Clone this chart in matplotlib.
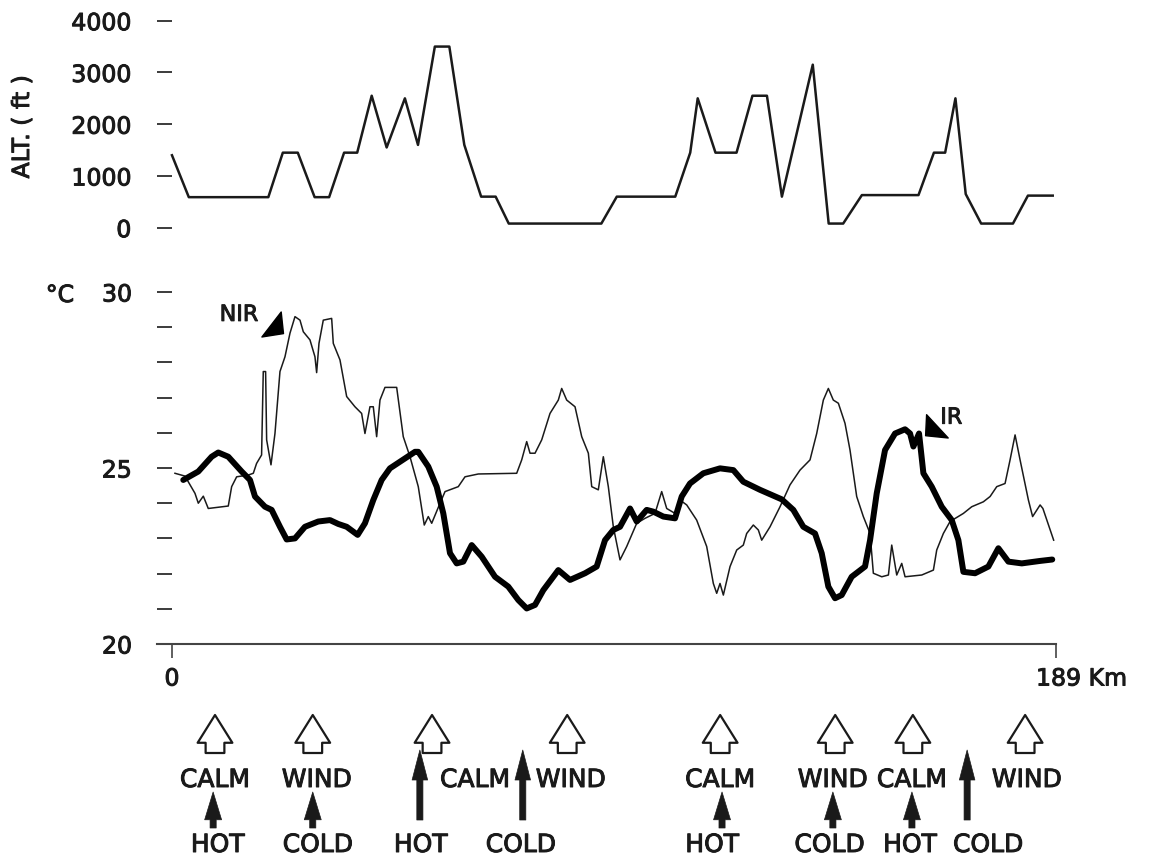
import matplotlib
matplotlib.use('Agg')
import matplotlib.pyplot as plt
import matplotlib.patheffects as pe
from matplotlib.path import Path

plt.rcParams['font.family'] = ['DejaVu Sans']

# ---------------- data ----------------
alt_km = [0.0, 3.6, 20.6, 23.7, 26.9, 30.5, 33.6, 36.8, 39.6, 42.7, 45.9, 49.8, 52.6,
          56.2, 59.3, 62.5, 66.1, 69.2, 72.0, 91.8, 95.1, 107.6, 110.8, 112.4, 116.2,
          120.7, 124.1, 127.2, 130.4, 137.0, 140.4, 143.5, 147.5, 159.6, 162.9, 165.3,
          167.5, 169.7, 173.0, 179.8, 183.0, 188.3]
alt_ft = [1400, 590, 590, 1450, 1450, 590, 590, 1450, 1450, 2550, 1550, 2500, 1600,
          3500, 3500, 1600, 600, 600, 80, 80, 600, 600, 1450, 2500, 1450,
          1450, 2550, 2550, 600, 3150, 80, 80, 630, 630, 1450, 1450,
          2500, 650, 80, 80, 620, 620]

ir_km = [2.42, 5.63, 8.48, 9.90, 12.04, 14.90, 16.68, 17.75, 19.88, 21.31, 23.09, 24.52,
         26.30, 28.43, 31.28, 33.78, 35.56, 37.35, 39.70, 41.26, 43.04, 44.83, 46.6,
         51.96, 52.66, 54.80, 56.59, 58.01, 59.44, 60.87, 62.28, 64.08, 66.22, 69.07,
         71.90, 74.04, 75.84, 77.62, 79.39, 82.60, 85.10, 88.31, 90.80, 92.58, 94.36,
         95.79, 97.93, 99.36, 101.49, 102.91, 105.05, 107.55, 108.98, 110.75, 113.60,
         117.17, 120.02, 122.15, 125.72, 130.36, 132.84, 134.98, 137.48, 138.91, 140.33,
         141.76, 143.18, 145.32, 148.17, 149.25, 150.67, 152.45, 154.59, 156.73, 157.80,
         158.51, 159.72, 160.65, 162.43, 164.57, 166.71, 168.13, 169.20, 171.69, 174.54,
         176.68, 178.82, 181.68, 185.6, 188.2]
ir_temp = [24.66, 24.90, 25.32, 25.44, 25.32, 24.90, 24.66, 24.19, 23.90, 23.81, 23.33, 22.97,
           23.00, 23.33, 23.48, 23.52, 23.41, 23.33, 23.10, 23.43, 24.09, 24.66, 24.99,
           25.46, 25.46, 25.04, 24.47, 23.71, 22.58, 22.29, 22.34, 22.81, 22.48, 21.91,
           21.63, 21.25, 21.01, 21.11, 21.53, 22.10, 21.82, 22.01, 22.20, 22.95, 23.24,
           23.33, 23.85, 23.48, 23.81, 23.76, 23.62, 23.57, 24.19, 24.56, 24.85,
           24.99, 24.94, 24.61, 24.38, 24.11, 23.81, 23.33, 23.14, 22.58, 21.63,
           21.30, 21.39, 21.91, 22.20, 22.95, 24.28, 25.51, 25.98, 26.10, 25.98,
           25.61, 25.98, 24.85, 24.47, 23.90, 23.52, 22.95, 22.05, 22.01, 22.20,
           22.72, 22.34, 22.29, 22.36, 22.40]

nir_km = [0.64, 2.78, 4.92, 5.63, 6.70, 7.76, 12.04, 12.76, 13.83, 16.32, 17.39, 18.09,
          19.16, 19.52, 20.02, 20.24, 21.17, 22.02, 23.09, 24.16, 25.23, 26.30, 27.37,
          28.08, 29.50, 30.57, 30.93, 31.43, 32.35, 34.14, 34.49, 35.92, 37.35, 39.12,
          40.55, 41.26, 42.33, 43.04, 43.76, 44.47, 45.54, 48.04, 49.45, 50.89, 52.66,
          53.94, 54.80, 55.53, 57.31, 58.38, 61.21, 62.65, 65.49, 73.70, 74.77, 75.84,
          76.55, 77.62, 79.05, 80.82, 82.60, 83.32, 84.39, 86.17, 87.60, 89.02, 89.74,
          91.15, 92.22, 93.29, 94.36, 95.79, 97.22, 99.36, 101.13, 103.27, 104.70,
          105.77, 107.55, 108.62, 110.05, 112.18, 114.32, 115.74, 116.46, 117.17,
          117.88, 119.31, 120.74, 122.15, 122.87, 124.29, 125.36, 126.08, 127.86,
          130.00, 132.13, 134.27, 136.41, 137.84, 139.26, 140.33, 141.39, 142.47,
          143.89, 144.96, 146.39, 147.81, 149.25, 149.95, 151.75, 153.17, 153.88,
          154.95, 156.02, 156.73, 160.30, 162.79, 163.50, 164.92, 166.35, 169.20,
          170.99, 173.47, 174.91, 176.33, 178.11, 179.18, 180.25, 181.32, 183.10,
          184.0, 185.6, 186.2, 188.5]
nir_temp = [24.85, 24.77, 24.28, 24.00, 24.20, 23.85, 23.92, 24.47, 24.75, 24.80, 24.85, 25.13,
            25.37, 27.74, 27.74, 25.80, 25.09, 25.98, 27.74, 28.16, 28.83, 29.30, 29.20,
            28.87, 28.64, 28.16, 27.71, 28.54, 29.20, 29.25, 28.54, 28.07, 27.03, 26.74,
            26.55, 25.98, 26.74, 26.74, 25.89, 26.93, 27.29, 27.29, 25.89, 25.32, 24.47,
            23.38, 23.62, 23.43, 24.00, 24.33, 24.47, 24.75, 24.83, 24.85, 25.23, 25.75,
            25.42, 25.42, 25.80, 26.55, 26.93, 27.26, 26.93, 26.74, 25.89, 25.42, 24.47,
            24.38, 25.32, 24.47, 23.33, 22.39, 22.77, 23.43, 23.57, 23.71, 24.33,
            23.85, 23.71, 24.09, 23.95, 23.52, 22.77, 21.72, 21.44, 21.72,
            21.39, 22.20, 22.67, 22.81, 23.14, 23.38, 23.24, 22.95, 23.33,
            23.90, 24.52, 24.94, 25.23, 25.98, 26.93, 27.26, 26.93, 26.84,
            26.27, 25.51, 24.19, 23.62, 23.14, 22.01, 21.91, 21.96, 22.81,
            21.96, 22.29, 21.91, 21.96, 22.10, 22.67, 23.14, 23.48, 23.71,
            23.90, 24.04, 24.19, 24.47, 24.56, 25.23, 25.94, 25.23, 24.09,
            23.62, 23.95, 23.85, 22.95]

upper_labels = ['CALM', 'WIND', 'CALM', 'WIND', 'CALM', 'WIND', 'CALM', 'WIND']
upper_label_km = [9.2, 31.0, 64.8, 85.3, 117.2, 141.3, 158.2, 182.8]
lower_labels = ['HOT', 'COLD', 'HOT', 'COLD', 'HOT', 'COLD', 'HOT', 'COLD']
lower_label_km = [9.8, 31.2, 53.2, 74.6, 115.5, 140.6, 157.8, 174.5]
open_arrow_km = [9.2, 30.1, 55.6, 84.5, 117.2, 141.8, 158.4, 182.4]
short_arrow_km = [8.8, 30.1, 117.6, 141.3, 158.2]
long_arrow_km = [53.0, 75.0, 170.0]

alt_ticks = [0, 1000, 2000, 3000, 4000]
temp_ticks = list(range(20, 31))
temp_tick_labels = ['20', '', '', '', '', '25', '', '', '', '', '30']

# ---------------- layout ----------------
W, H = 1152, 856
fig = plt.figure(figsize=(W / 100, H / 100), dpi=100)
fig.patch.set_facecolor('white')


def box(x0, y0, x1, y1):
    return [x0 / W, 1 - y1 / H, (x1 - x0) / W, (y1 - y0) / H]


KM_MIN, KM_MAX = -3.2, 189
INK = '#1a1a1a'
FS = 17
HEAVY = [pe.withStroke(linewidth=0.7, foreground=INK)]

# altitude panel
ax_a = fig.add_axes(box(157, 20.7, 1056, 227.7))
ax_a.plot(alt_km, alt_ft, color=INK, lw=1.8, clip_on=False)
ax_a.set_xlim(KM_MIN, KM_MAX)
ax_a.set_ylim(0, 4000)
for s in ax_a.spines.values():
    s.set_visible(False)
ax_a.set_xticks([])
ax_a.set_yticks(alt_ticks)
ax_a.tick_params(axis='y', direction='in', length=10.5, width=1.2, pad=18.5,
                 labelsize=FS, colors=INK)
for t in ax_a.get_yticklabels():
    t.set_path_effects(HEAVY)
ax_a.set_facecolor('none')

# temperature panel
ax_t = fig.add_axes(box(157, 292, 1056, 644))
ax_t.plot(nir_km, nir_temp, color=INK, lw=1.1)
ax_t.plot(ir_km, ir_temp, color='black', lw=4.3, solid_capstyle='round',
          solid_joinstyle='round')
ax_t.set_xlim(KM_MIN, KM_MAX)
ax_t.set_ylim(20, 30)
for name in ['left', 'top', 'right']:
    ax_t.spines[name].set_visible(False)
ax_t.spines['bottom'].set_color('#444444')
ax_t.spines['bottom'].set_linewidth(1.5)
ax_t.set_yticks(temp_ticks)
ax_t.set_yticklabels(temp_tick_labels)
ax_t.tick_params(axis='y', direction='in', length=10.5, width=1.2, pad=18,
                 labelsize=FS, colors=INK)
for t in ax_t.get_yticklabels():
    t.set_path_effects(HEAVY)
ax_t.set_xticks([0, 189])
ax_t.set_xticklabels(['', ''])
ax_t.tick_params(axis='x', direction='out', length=10, width=1.2, colors='#444444')
ax_t.set_facecolor('none')

ax_t.annotate('0', xy=(0, 20), xytext=(0, -29.9), textcoords='offset points',
              ha='center', va='baseline', fontsize=FS, color=INK, annotation_clip=False,
              path_effects=HEAVY)
ax_t.annotate('189 Km', xy=(189, 20), xytext=(-14.4, -29.9), textcoords='offset points',
              ha='left', va='baseline', fontsize=FS, color=INK, annotation_clip=False,
              path_effects=HEAVY)

fig.text(60 / W, 1 - 295 / H, '°C', ha='center', va='center', fontsize=FS, color=INK,
         path_effects=HEAVY)
fig.text(22 / W, 1 - 126.7 / H, 'ALT. ( ft )', rotation=90, ha='center', va='center',
         fontsize=FS, color=INK, path_effects=HEAVY)

# NIR / IR labels with pointer triangles
ax_t.text(14.3, 29.35, 'NIR', ha='center', va='center', fontsize=16, color=INK,
          path_effects=HEAVY)
ax_t.text(166.6, 26.43, 'IR', ha='center', va='center', fontsize=16, color=INK,
          path_effects=HEAVY)
nir_tri = Path([(-13.6, -9.5), (8.0, -6.1), (5.7, 15.5), (-13.6, -9.5)],
               [Path.MOVETO, Path.LINETO, Path.LINETO, Path.CLOSEPOLY])
ir_tri = Path([(-6.9, 14.8), (-7.9, -6.2), (14.7, -8.5), (-6.9, 14.8)],
              [Path.MOVETO, Path.LINETO, Path.LINETO, Path.CLOSEPOLY])
ax_t.plot([22.1], [29.0], marker=nir_tri, ms=22.3, color='black', ls='none')
ax_t.plot([162.8], [26.11], marker=ir_tri, ms=21.3, color='black', ls='none')

# event annotations below the chart
XY = ('data', 'figure pixels')
for lab, km in zip(upper_labels, upper_label_km):
    ax_t.annotate(lab, xy=(km, H - 787), xycoords=XY, ha='center', va='baseline',
                  fontsize=18, color=INK, annotation_clip=False, path_effects=HEAVY)
for lab, km in zip(lower_labels, lower_label_km):
    ax_t.annotate(lab, xy=(km, H - 852), xycoords=XY, ha='center', va='baseline',
                  fontsize=18, color=INK, annotation_clip=False, path_effects=HEAVY)

for km in open_arrow_km:
    ax_t.annotate('', xy=(km, H - 715), xycoords=XY, xytext=(km, H - 753), textcoords=XY,
                  arrowprops=dict(arrowstyle='simple,head_length=0.4,head_width=0.5,tail_width=0.27',
                                  mutation_scale=50, fc='white', ec=INK, lw=1.6,
                                  shrinkA=0, shrinkB=0),
                  annotation_clip=False)
for km in short_arrow_km:
    ax_t.annotate('', xy=(km, H - 792), xycoords=XY, xytext=(km, H - 828), textcoords=XY,
                  arrowprops=dict(arrowstyle='simple,head_length=1.0,head_width=0.61,tail_width=0.22',
                                  mutation_scale=20, fc=INK, ec=INK, lw=0.5,
                                  shrinkA=0, shrinkB=0),
                  annotation_clip=False)
for km in long_arrow_km:
    ax_t.annotate('', xy=(km, H - 750), xycoords=XY, xytext=(km, H - 820), textcoords=XY,
                  arrowprops=dict(arrowstyle='simple,head_length=1.08,head_width=0.56,tail_width=0.22',
                                  mutation_scale=20, fc=INK, ec=INK, lw=0.5,
                                  shrinkA=0, shrinkB=0),
                  annotation_clip=False)

fig.savefig('out.png', dpi=100, facecolor='white')
